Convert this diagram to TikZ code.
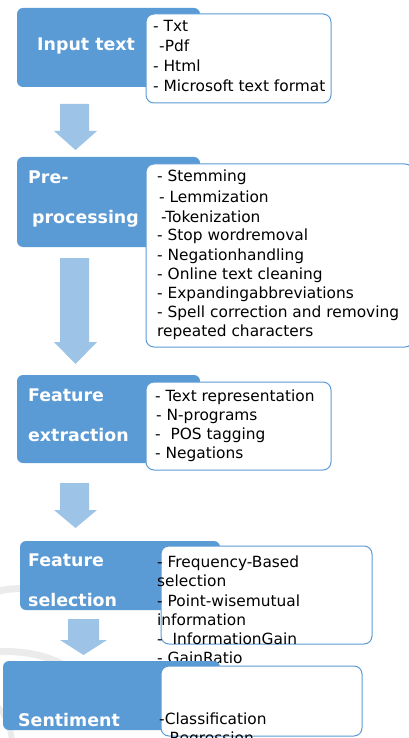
\documentclass[tikz,border=0pt]{standalone}
\usepackage{fontspec}
\setmainfont{DejaVu Sans}
\definecolor{boxblue}{HTML}{5B9BD5}
\definecolor{arrowblue}{HTML}{9DC3E6}
\definecolor{wmark}{HTML}{EBEBEB}
\begin{document}
\begin{tikzpicture}[x=1pt,y=-1pt,
  stagebox/.style={fill=boxblue,rounded corners=6pt},
  listbox/.style={fill=white,draw=boxblue,line width=1pt,rounded corners=8pt},
  stagetext/.style={anchor=base west,inner sep=0pt,text=white,font=\fontsize{17.4}{20}\selectfont\bfseries},
  item/.style={anchor=base west,inner sep=0pt,text=black,font=\fontsize{15.4}{18}\selectfont},
  flow/.style={fill=arrowblue}]
\useasboundingbox (0,0) rectangle (409,738);
% faint watermark arcs
\draw[wmark,line width=7pt] (-5,592) .. controls (20,585) and (40,590) .. (55,598);
\draw[wmark,line width=7pt] (-5,652) .. controls (20,650) and (45,655) .. (62,664);
\draw[wmark,line width=6pt] (-5,705) .. controls (5,712) and (10,725) .. (12,740);
% stage 1
\path[stagebox] (17,8) rectangle (200,87);
\path[listbox] (146,14) rectangle (331,103);
\node[stagetext] (s1) at (37,51) {Input text};
\node[item] (i11) at (153,32) {- Txt};
\node[item] (i12) at (159,52) {-Pdf};
\node[item] (i13) at (153,72) {- Html};
\node[item] (i14) at (153,91.5) {- Microsoft text format};
% arrow 1
\fill[flow] (60,104) -- (89,104) -- (89,131) -- (97,131) -- (75.5,150) -- (54,131) -- (60,131) -- cycle;
% stage 2
\path[stagebox] (17,157) rectangle (200,247);
\path[listbox] (146,164) rectangle (413,347);
\node[stagetext] (s2a) at (28,183) {Pre-};
\node[stagetext] (s2b) at (32,223) {processing};
\node[item] (i21) at (157,182) {- Stemming};
\node[item] (i22) at (159,202) {- Lemmization};
\node[item] (i23) at (161,222.5) {-Tokenization};
\node[item] (i24) at (157,240.5) {- Stop wordremoval};
\node[item] (i25) at (157,260) {- Negationhandling};
\node[item] (i26) at (157,279) {- Online text cleaning};
\node[item] (i27) at (157,298) {- Expandingabbreviations};
\node[item] (i28) at (157,317) {- Spell correction and removing};
\node[item] (i29) at (157,336) {repeated characters};
% arrow 2
\fill[flow] (60,258) -- (89,258) -- (89,342) -- (97,342) -- (75.5,364) -- (54,342) -- (60,342) -- cycle;
% stage 3
\path[stagebox] (17,375) rectangle (200,463);
\path[listbox] (146,382) rectangle (331,470);
\node[stagetext] (s3a) at (28,401) {Feature};
\node[stagetext] (s3b) at (28,441) {extraction};
\node[item] (i31) at (155,401) {- Text representation};
\node[item] (i32) at (156,420) {- N-programs};
\node[item] (i33) at (155,439.5) {-\ \ POS tagging};
\node[item] (i34) at (155,458.5) {- Negations};
% arrow 3
\fill[flow] (60,483) -- (89,483) -- (89,510) -- (97,510) -- (75.5,528) -- (54,510) -- (60,510) -- cycle;
% stage 4
\path[stagebox] (20,541) rectangle (220,610);
\path[listbox] (161,546) rectangle (372,644);
\node[stagetext] (s4a) at (28,566) {Feature};
\node[stagetext] (s4b) at (28,606) {selection};
\node[item] (i41) at (157,567.5) {- Frequency-Based};
\node[item] (i42) at (157,586.5) {selection};
\node[item] (i43) at (157,606) {- Point-wisemutual};
\node[item] (i44) at (157,625) {information};
\node[item] (i45) at (157,644.5) {-\ \ InformationGain};
\node[item] (i46) at (157,663) {- GainRatio};
% arrow 4
\fill[flow] (68,619) -- (99,619) -- (99,640) -- (107,640) -- (83.5,655) -- (60,640) -- (68,640) -- cycle;
% stage 5
\path[stagebox] (3,661) rectangle (220,730);
\path[listbox] (161,666) rectangle (362,736);
\node[stagetext] (s5) at (18,726) {Sentiment};
\node[item] (i51) at (159,724.5) {-Classification};
\node[item] (i52) at (159,743.5) {- Regression};
\end{tikzpicture}
\end{document}
